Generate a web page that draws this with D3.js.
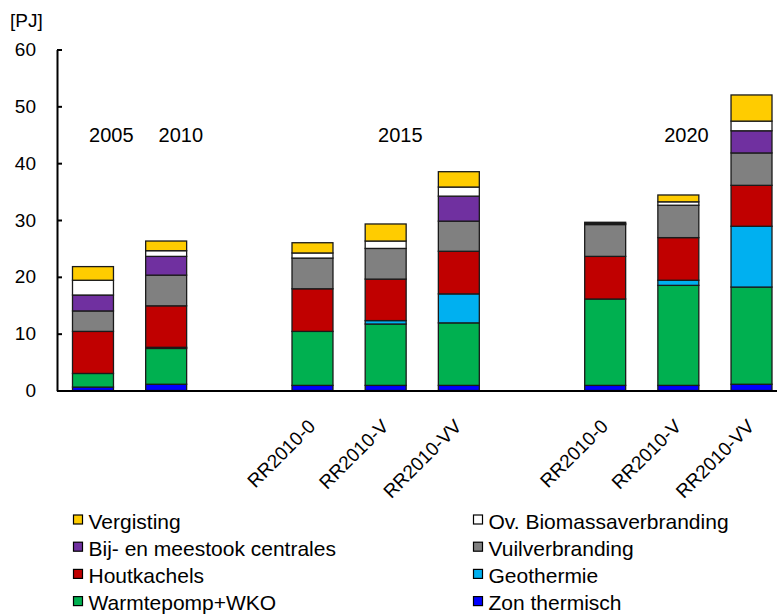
<!DOCTYPE html>
<html>
<head>
<meta charset="utf-8">
<script src="https://cdn.jsdelivr.net/npm/d3@7"></script>
<style>
  html, body { margin: 0; padding: 0; background: #fff; }
  svg { display: block; font-family: "Liberation Sans", Arial, sans-serif; }
</style>
</head>
<body>
<svg id="chart" width="777" height="614"></svg>
<script>
// ---- data ----
const categories = ["2005", "2010", "gapA", "2015-RR2010-0", "2015-RR2010-V", "2015-RR2010-VV", "gapB", "2020-RR2010-0", "2020-RR2010-V", "2020-RR2010-VV"];
const tickLabels = ["", "", "", "RR2010-0", "RR2010-V", "RR2010-VV", "", "RR2010-0", "RR2010-V", "RR2010-VV"];
const barCategories = ["2005", "2010", "2015-RR2010-0", "2015-RR2010-V", "2015-RR2010-VV", "2020-RR2010-0", "2020-RR2010-V", "2020-RR2010-VV"];

const seriesNames = ["Zon thermisch", "Warmtepomp+WKO", "Geothermie", "Houtkachels", "Vuilverbranding", "Bij- en meestook centrales", "Ov. Biomassaverbranding", "Vergisting"];
const seriesColors = ["#0000FF", "#00B050", "#00B0F0", "#C00000", "#808080", "#7030A0", "#FFFFFF", "#FFCC00"];

const zonThermisch   = [0.6, 1.1, 0.9, 0.9, 0.9, 0.9, 0.9, 1.1];
const warmtepomp     = [2.4, 6.3, 9.5, 10.8, 11.0, 15.2, 17.6, 17.1];
const geothermie     = [0.0, 0.2, 0.0, 0.6, 5.1, 0.0, 0.9, 10.7];
const houtkachels    = [7.4, 7.3, 7.5, 7.3, 7.5, 7.5, 7.5, 7.2];
const vuilverbranding= [3.6, 5.4, 5.4, 5.4, 5.3, 5.6, 5.7, 5.7];
const bijMeestook    = [2.8, 3.3, 0.0, 0.0, 4.4, 0.0, 0.0, 3.9];
const ovBiomassa     = [2.6, 1.0, 0.9, 1.3, 1.6, 0.2, 0.6, 1.7];
const vergisting     = [2.4, 1.7, 1.8, 3.0, 2.7, 0.2, 1.2, 4.6];

const yTicks = [0, 10, 20, 30, 40, 50, 60];
const yearLabels = ["2005", "2010", "2015", "2020"];
const legendOrder = ["Vergisting", "Ov. Biomassaverbranding", "Bij- en meestook centrales", "Vuilverbranding", "Houtkachels", "Geothermie", "Warmtepomp+WKO", "Zon thermisch"];

// ---- build table ----
const seriesValues = [zonThermisch, warmtepomp, geothermie, houtkachels, vuilverbranding, bijMeestook, ovBiomassa, vergisting];
const table = barCategories.map((c, i) => {
  const row = { cat: c };
  seriesNames.forEach((s, j) => row[s] = seriesValues[j][i]);
  return row;
});
const stacked = d3.stack().keys(seriesNames)(table);
const color = d3.scaleOrdinal(seriesNames, seriesColors);

// ---- scales ----
const svg = d3.select("#chart");
const x = d3.scaleBand().domain(categories).range([56.4, 788.1]).paddingInner(0.44).paddingOuter(0.22);
const y = d3.scaleLinear().domain([0, 60]).range([390.5, 49.5]);

// ---- bars ----
svg.append("g").selectAll("g")
  .data(stacked)
  .join("g")
  .attr("fill", d => color(d.key))
  .selectAll("rect")
  .data(d => d.filter(p => p[1] - p[0] > 0))
  .join("rect")
  .attr("x", d => x(d.data.cat))
  .attr("width", x.bandwidth())
  .attr("y", d => y(d[1]))
  .attr("height", d => y(d[0]) - y(d[1]))
  .attr("stroke", "#1a1a1a")
  .attr("stroke-width", 1.3);

// ---- axes ----
const yAxis = d3.axisLeft(y).tickValues(yTicks).tickSizeInner(-5).tickSizeOuter(0).tickPadding(21);
const gy = svg.append("g").attr("transform", `translate(${57},0)`).call(yAxis);
gy.select(".domain").attr("stroke", "#000").attr("stroke-width", 2);
gy.selectAll(".tick line").attr("stroke", "#000").attr("stroke-width", 2);
gy.selectAll(".tick text").attr("font-size", 19).attr("fill", "#000")
  .attr("font-family", "Liberation Sans, Arial, sans-serif");

const xAxis = d3.axisBottom(x).tickSize(0).tickFormat(() => "");
const gx = svg.append("g").attr("transform", `translate(0,${y(0)})`).call(xAxis);
gx.select(".domain").attr("stroke", "#000").attr("stroke-width", 2);

// rotated category labels
svg.append("g").selectAll("text")
  .data(categories.map((c, i) => ({ c, t: tickLabels[i] })).filter(d => d.t))
  .join("text")
  .attr("transform", d => `translate(${x(d.c) + x.bandwidth() / 2 + 4},${y(0) + 37}) rotate(-45)`)
  .attr("text-anchor", "end")
  .attr("font-size", 19)
  .attr("fill", "#000")
  .text(d => d.t);

// unit label
svg.append("text").attr("x", 10).attr("y", 27).attr("font-size", 19).attr("fill", "#000").text("[PJ]");

// year labels
const step = x.step();
const yearAnchors = [
  x("2005") + x.bandwidth() / 2 + step * 0.25,
  x("2010") + x.bandwidth() / 2 + step * 0.2,
  x("2015-RR2010-V") + x.bandwidth() / 2 + step * 0.2,
  x("2020-RR2010-V") + x.bandwidth() / 2 + step * 0.11
];
svg.append("g").selectAll("text")
  .data(yearLabels)
  .join("text")
  .attr("x", (d, i) => yearAnchors[i])
  .attr("y", y(43.7))
  .attr("text-anchor", "middle")
  .attr("font-size", 20)
  .attr("fill", "#000")
  .text(d => d);

// ---- legend ----
const legend = svg.append("g");
const li = legend.selectAll("g")
  .data(legendOrder)
  .join("g")
  .attr("transform", (d, i) => `translate(${i % 2 === 0 ? 73.5 : 473.5},${515 + Math.floor(i / 2) * 27.2})`);
li.append("rect").attr("width", 9).attr("height", 9)
  .attr("fill", d => color(d)).attr("stroke", "#000").attr("stroke-width", 1.2);
li.append("text").attr("x", 15).attr("y", 13.8).attr("font-size", 21).attr("fill", "#000").text(d => d);
</script>
</body>
</html>
